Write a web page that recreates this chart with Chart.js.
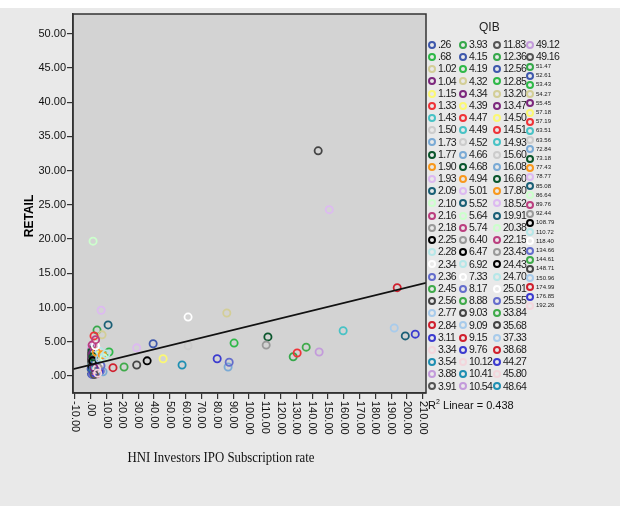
<!DOCTYPE html>
<html>
<head>
<meta charset="utf-8">
<script src="https://cdn.jsdelivr.net/npm/chart.js@4.4.0/dist/chart.umd.min.js"></script>
<style>
  html, body { margin: 0; padding: 0; }
  body { width: 620px; height: 506px; background: #e9e9e9; position: relative; overflow: hidden;
         font-family: "Liberation Sans", Arial, sans-serif; }
  #topband { position: absolute; left: 0; top: 0; width: 620px; height: 8px; background: #fff; }
  #chart { position: absolute; left: 0; top: 0; }
  #legend { position: absolute; left: 0; top: 0; width: 620px; height: 506px; pointer-events: none; }
  .qib-title { position: absolute; left: 479px; top: 20px; font-size: 12px; color: #222; }
  .item { position: absolute; white-space: nowrap; color: #1a1a1a; letter-spacing: -0.6px; }
  .item.small { letter-spacing: 0; }
  .item i { position: absolute; left: 0; border-style: solid; border-radius: 50%; box-sizing: border-box; }
</style>
</head>
<body>
<div id="topband"></div>
<canvas id="chart" width="620" height="506"></canvas>
<div id="legend"></div>
<script>
// QIB categories (legend order)
const qib = ['.26', '.68', '1.02', '1.04', '1.15', '1.33', '1.43', '1.50', '1.73', '1.77',
  '1.90', '1.93', '2.09', '2.10', '2.16', '2.18', '2.25', '2.28', '2.34', '2.36',
  '2.45', '2.56', '2.77', '2.84', '3.11', '3.34', '3.54', '3.88', '3.91',
  '3.93', '4.15', '4.19', '4.32', '4.34', '4.39', '4.47', '4.49', '4.52', '4.66',
  '4.68', '4.94', '5.01', '5.52', '5.64', '5.74', '6.40', '6.47', '6.92', '7.33',
  '8.17', '8.88', '9.03', '9.09', '9.15', '9.76', '10.12', '10.41', '10.54',
  '11.83', '12.36', '12.56', '12.85', '13.20', '13.47', '14.50', '14.51', '14.93', '15.60',
  '16.08', '16.60', '17.80', '18.52', '19.91', '20.38', '22.15', '23.43', '24.43', '24.70',
  '25.01', '25.55', '33.84', '35.68', '37.33', '38.68', '44.27', '45.80', '48.64',
  '49.12', '49.16', '51.47', '52.61', '53.43', '54.27', '55.45', '57.18', '57.19', '63.51',
  '63.56', '72.84', '73.18', '77.43', '78.77', '85.08', '86.64', '89.76', '92.44', '108.79',
  '110.72', '118.40', '134.66', '144.61', '148.71', '150.96', '174.99', '176.85', '192.26'];

// HNI subscription rate (x) per QIB category
const hni = [0.4, 0.9, 0.3, 0.6, 0.5, 1.2, 0.7, 1.5, 2.1, 0.8,
  1.1, 0.4, 0.9, 2.4, 1.3, 2.8, 0.6, 3.2, 1.7, 1.0,
  1.6, 0.5, 3.5, 4.5, 5.2, 2.6, 0.8, 1.9, 2.3,
  1.4, 0.2, 2.9, 1.8, 0.5, 3.8, 3.0, 1.0, 4.1, 2.2,
  0.9, 2.5, 6.5, 1.6, 4.4, 3.6, 2.0, 0.7, 3.3, 5.0,
  6.0, 1.3, 0.6, 2.7, 4.2, 1.8, 3.9, 1.4, 3.1,
  0.4, 3.9, 2.4, 11.5, 7.1, 1.1, 4.8, 2.0, 2.6, 4.0,
  7.7, 1.5, 3.4, 29.0, 10.9, 1.4, 0.8, 4.6, 1.2, 5.4,
  2.9, 6.4, 21.0, 29.0, 5.6, 14.0, 79.9, 3.7, 57.7,
  144.4, 2.1, 128.0, 39.4, 90.6, 86.0, 1.9, 45.7, 130.5, 159.6,
  61.5, 86.8, 112.0, 7.2, 150.8, 198.9, 8.3, 3.0, 110.9, 35.6,
  9.5, 61.5, 87.5, 136.2, 143.8, 191.9, 193.8, 205.2, 4.3];

// RETAIL subscription rate (y) per QIB category
const retail = [0.3, 2.6, 1.2, 3.9, 0.8, 0.5, 1.9, 2.2, 1.0, 3.1,
  1.5, 4.3, 0.9, 2.9, 3.5, 3.2, 2.4, 1.8, 0.3, 0.2,
  1.3, 3.4, 0.8, 0.6, 0.7, 0.4, 1.6, 4.1, 3.1,
  2.0, 1.0, 2.4, 1.7, 2.7, 1.5, 0.5, 2.9, 3.3, 0.6,
  3.7, 1.1, 9.6, 0.9, 2.7, 0.3, 2.6, 1.4, 2.2, 1.9,
  0.7, 2.5, 3.0, 3.6, 0.9, 0.5, 3.9, 1.1, 0.9,
  2.1, 6.7, 1.8, 3.5, 6.0, 3.3, 3.0, 5.85, 1.4, 2.0,
  0.6, 2.8, 3.5, 4.1, 7.45, 19.7, 4.5, 1.2, 2.2, 3.6,
  4.4, 1.5, 1.3, 1.6, 2.5, 1.2, 2.5, 1.0, 1.6,
  3.5, 0.2, 2.8, 4.7, 4.8, 9.2, 1.2, 2.5, 3.35, 6.6,
  4.4, 1.3, 5.7, 3.1, 24.3, 5.85, 2.6, 5.3, 4.5, 2.2,
  3.2, 8.6, 2.0, 4.2, 32.9, 7.0, 12.9, 6.1, 0.4];

// linear fit
const fitIntercept = 1.62;
const fitSlope = 0.0565;
const rSquared = '0.438';

const xTicks = [-10, 0, 10, 20, 30, 40, 50, 60, 70, 80, 90, 100, 110, 120, 130, 140, 150, 160, 170, 180, 190, 200, 210];
const yTicks = [0, 5, 10, 15, 20, 25, 30, 35, 40, 45, 50];

const palette = ['#3E58AC', '#2EB848', '#D3CE97', '#7C287D', '#FBF873', '#EF3338', '#48C2C5', '#CCCCCC',
  '#7AAAD5', '#0A562C', '#F8981D', '#DDBAF1', '#1A5F76', '#CCFFCC', '#BB3F7F', '#999999', '#000000',
  '#B6E7E8', '#FFFFFF', '#646DCC', '#3FAA4A', '#444444', '#A8CBEB', '#D0202E', '#3B3BCF', '#F3D6DC',
  '#1E8FB2', '#C39BDB', '#555555', '#35A84A'];

function fmt(v) {
  if (v === 0) return '.00';
  return v.toFixed(2);
}

const xMin = -11.3, xMax = 212;
const points = hni.map((x, i) => ({ x: x, y: retail[i] }));
const fitPoints = [xMin, xMax].map(x => ({ x: x, y: fitIntercept + fitSlope * x }));

const decorations = {
  id: 'decorations',
  beforeDraw(chart) {
    const { ctx, chartArea: a } = chart;
    ctx.save();
    ctx.fillStyle = '#d3d3d3';
    ctx.fillRect(a.left, a.top, a.right - a.left, a.bottom - a.top);
    ctx.restore();
  },
  afterDraw(chart) {
    const { ctx, chartArea: a, scales } = chart;
    ctx.save();
    ctx.strokeStyle = '#333';
    ctx.lineWidth = 1.5;
    ctx.strokeRect(a.left, a.top, a.right - a.left, a.bottom - a.top);

    // x tick labels, reading downwards
    ctx.fillStyle = '#111';
    ctx.font = '11px "Liberation Sans", Arial, sans-serif';
    ctx.textAlign = 'left';
    ctx.textBaseline = 'middle';
    xTicks.forEach(v => {
      const px = scales.x.getPixelForValue(v);
      ctx.save();
      ctx.translate(px, a.bottom + 8);
      ctx.rotate(Math.PI / 2);
      ctx.fillText(fmt(v), 0, 0);
      ctx.restore();
    });

    // y title
    ctx.save();
    ctx.font = 'bold 12px "Liberation Sans", Arial, sans-serif';
    ctx.textAlign = 'center';
    ctx.translate(30, 216);
    ctx.rotate(-Math.PI / 2);
    ctx.fillStyle = '#000';
    ctx.fillText('RETAIL', 0, 0);
    ctx.restore();

    // x title
    ctx.save();
    ctx.font = '14px "Liberation Serif", "Times New Roman", serif';
    const t = 'HNI Investors IPO Subscription rate';
    const w = ctx.measureText(t).width;
    ctx.translate(221, 458);
    ctx.scale(187 / w, 1);
    ctx.textAlign = 'center';
    ctx.fillStyle = '#111';
    ctx.fillText(t, 0, 0);
    ctx.restore();

    // R squared
    ctx.font = '11px "Liberation Sans", Arial, sans-serif';
    ctx.textAlign = 'left';
    ctx.fillStyle = '#111';
    ctx.fillText('R', 428, 406);
    ctx.font = '7px "Liberation Sans", Arial, sans-serif';
    ctx.fillText('2', 436, 402);
    ctx.font = '11px "Liberation Sans", Arial, sans-serif';
    ctx.fillText(' Linear = ' + rSquared, 440, 406);
    ctx.restore();
  }
};

const ctx = document.getElementById('chart').getContext('2d');
const myChart = new Chart(ctx, {
  type: 'scatter',
  data: {
    datasets: [{
      type: 'line',
      data: fitPoints,
      borderColor: '#111',
      borderWidth: 1.6,
      pointRadius: 0,
      fill: false
    }, {
      data: points,
      pointRadius: 3.6,
      borderWidth: 1.8,
      backgroundColor: 'rgba(0,0,0,0)',
      pointBorderColor: c => palette[c.dataIndex % palette.length]
    }]
  },
  options: {
    responsive: false,
    animation: false,
    layout: { padding: { left: 0, top: 14, right: 194, bottom: 0 } },
    plugins: { legend: { display: false }, tooltip: { enabled: false } },
    scales: {
      x: {
        type: 'linear',
        min: xMin,
        max: xMax,
        afterBuildTicks: s => { s.ticks = xTicks.map(v => ({ value: v })); },
        afterFit: s => { s.height = 113; },
        ticks: { color: 'rgba(0,0,0,0)', autoSkip: false, maxRotation: 0 },
        grid: { drawOnChartArea: false, tickLength: 6, color: '#333', lineWidth: 1.2 },
        border: { color: '#333', width: 1.5 }
      },
      y: {
        min: -2.5,
        max: 52.9,
        afterBuildTicks: s => { s.ticks = yTicks.map(v => ({ value: v })); },
        afterFit: s => { s.width = 73; },
        ticks: {
          callback: v => fmt(v),
          color: '#111',
          padding: 1,
          font: { size: 11, family: '"Liberation Sans", Arial, sans-serif' }
        },
        grid: { drawOnChartArea: false, tickLength: 6, color: '#333', lineWidth: 1.2 },
        border: { color: '#333', width: 1.5 }
      }
    }
  },
  plugins: [decorations]
});

// legend
const legend = document.getElementById('legend');
const title = document.createElement('div');
title.className = 'qib-title';
title.textContent = 'QIB';
legend.appendChild(title);

function addItem(i, left, top, fontSize, size, stroke) {
  const d = document.createElement('div');
  d.className = fontSize < 8 ? 'item small' : 'item';
  d.style.left = left + 'px';
  d.style.top = top + 'px';
  d.style.fontSize = fontSize + 'px';
  d.style.lineHeight = (fontSize + 1) + 'px';
  d.style.paddingLeft = (size + 2) + 'px';
  const m = document.createElement('i');
  m.style.width = size + 'px';
  m.style.height = size + 'px';
  m.style.borderWidth = stroke + 'px';
  m.style.borderColor = palette[i % palette.length];
  m.style.top = ((fontSize + 1 - size) / 2) + 'px';
  d.appendChild(m);
  d.appendChild(document.createTextNode(qib[i]));
  legend.appendChild(d);
}

const colLeft = [428, 459, 493];
for (let i = 0; i < 87; i++) {
  const c = Math.floor(i / 29), r = i % 29;
  addItem(i, colLeft[c], 39 + r * 12.2, 10.5, 8, 2);
}
addItem(87, 526, 39, 10.5, 8, 2);
addItem(88, 526, 51.2, 10.5, 8, 2);
for (let i = 89; i < qib.length; i++) {
  addItem(i, 526, 63 + (i - 89) * 9.2, 6, 8, 2);
}
</script>
</body>
</html>
